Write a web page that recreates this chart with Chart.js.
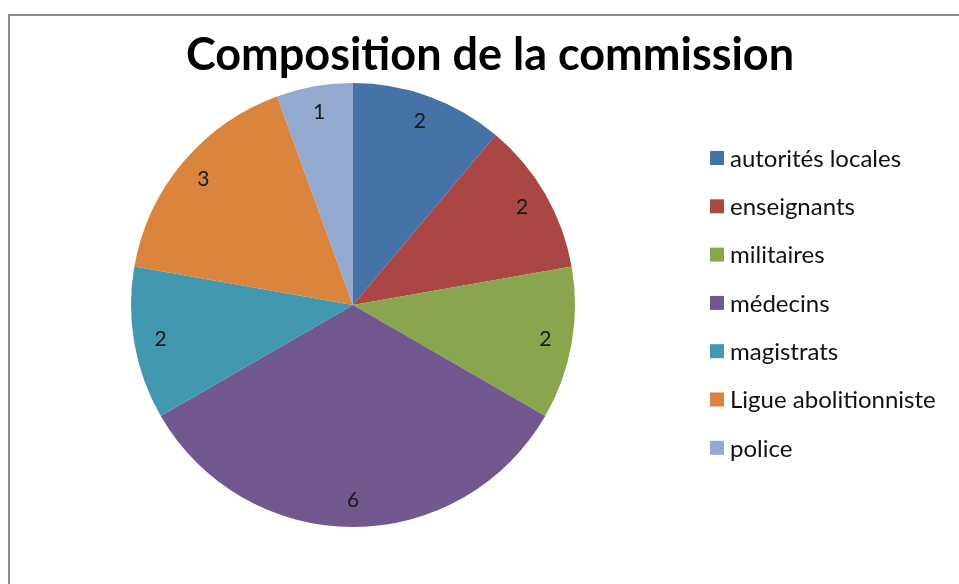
<!DOCTYPE html>
<html>
<head>
<meta charset="utf-8">
<script src="https://cdn.jsdelivr.net/npm/chart.js@4"></script>
<style>
  html, body { margin: 0; padding: 0; background: #fff; }
  #wrap { width: 959px; height: 584px; }
</style>
</head>
<body>
<div id="wrap"><canvas id="pieChart" width="959" height="584"></canvas></div>
<script>
const categories = ['autorités locales', 'enseignants', 'militaires', 'médecins', 'magistrats', 'Ligue abolitionniste', 'police'];
const members = [2, 2, 2, 6, 2, 3, 1];
const sliceColors = ['#4572A7', '#AA4643', '#89A54E', '#71588F', '#4198AF', '#DB843D', '#93A9CF'];
const chartTitle = 'Composition de la commission';

const FONT = 'Lato, "Open Sans", sans-serif';

// frame, title, value labels and legend drawn by hand to match the original layout
const decorations = {
    id: 'decorations',
    beforeDraw(chart) {
        const c = chart.ctx;
        c.save();
        c.strokeStyle = '#8c8c8c';
        c.lineWidth = 2;
        c.strokeRect(9, 15, 1000, 700);
        c.restore();
    },
    afterDraw(chart) {
        const c = chart.ctx;
        c.save();
        c.fillStyle = '#000';
        c.font = 'bold 45px ' + FONT;
        c.textAlign = 'center';
        c.textBaseline = 'middle';
        c.fillText(chartTitle, 490, 55);

        // value labels inside the slices
        const meta = chart.getDatasetMeta(0);
        c.font = '21px ' + FONT;
        c.fillStyle = '#1a1a1a';
        meta.data.forEach((arc, i) => {
            const p = arc.getProps(['x', 'y', 'startAngle', 'endAngle', 'outerRadius'], true);
            const mid = (p.startAngle + p.endAngle) / 2;
            const r = p.outerRadius * 0.88;
            c.fillText(String(members[i]), p.x + Math.cos(mid) * r, p.y + Math.sin(mid) * r);
        });

        // legend
        c.textAlign = 'left';
        c.font = '24px ' + FONT;
        categories.forEach((name, i) => {
            const y = 158 + i * 48.3;
            c.fillStyle = sliceColors[i];
            c.fillRect(710, y - 7, 14, 14);
            c.fillStyle = '#111';
            c.fillText(name, 730, y + 1);
        });
        c.restore();
    }
};

const pieChart = new Chart(document.getElementById('pieChart'), {
    type: 'pie',
    data: {
        labels: categories,
        datasets: [{
            data: members,
            backgroundColor: sliceColors,
            borderWidth: 0
        }]
    },
    options: {
        responsive: false,
        animation: false,
        layout: {
            padding: { left: 131, right: 384, top: 83, bottom: 57 }
        },
        plugins: {
            legend: { display: false },
            title: { display: false },
            tooltip: { enabled: false }
        }
    },
    plugins: [decorations]
});
</script>
</body>
</html>
